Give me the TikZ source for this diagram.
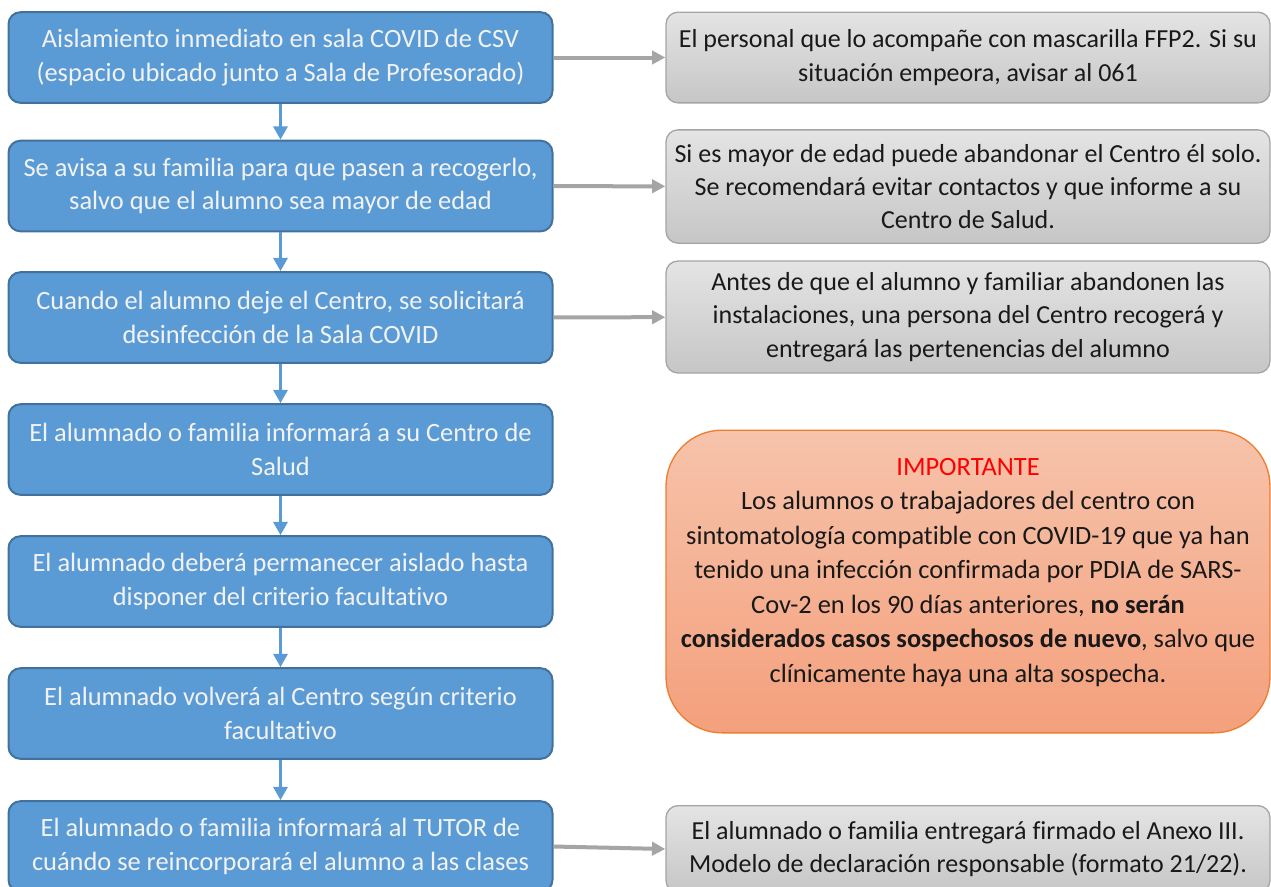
\documentclass[tikz,border=0pt]{standalone}
\usepackage{fontspec}
\setmainfont{Carlito}[Ligatures=NoCommon]
\usetikzlibrary{arrows.meta}

\definecolor{azulpaso}{HTML}{5B9BD5}
\definecolor{bordeazul}{HTML}{41719C}
\definecolor{grisclaro}{HTML}{E4E4E4}
\definecolor{grisoscuro}{HTML}{C6C6C6}
\definecolor{bordegris}{HTML}{A5A5A5}
\definecolor{flechagris}{HTML}{A5A5A5}
\definecolor{naranjaclaro}{HTML}{F6C3AB}
\definecolor{naranjaoscuro}{HTML}{F4A07C}
\definecolor{bordenaranja}{HTML}{ED7D31}

\tikzset{
  paso/.style={rectangle,rounded corners=9pt,draw=bordeazul,line width=1.5pt,
    fill=azulpaso,text=white!95!black,minimum width=408pt,minimum height=68pt,
    inner sep=0pt,align=center,font=\fontsize{19.8}{25}\selectfont},
  nota/.style={rectangle,rounded corners=9pt,draw=bordegris,line width=1pt,
    top color=grisclaro,bottom color=grisoscuro,text=black!90,
    minimum width=453pt,inner sep=0pt,align=center,
    font=\fontsize{19.5}{25}\selectfont},
  aviso/.style={rectangle,rounded corners=42pt,draw=bordenaranja,line width=1pt,
    top color=naranjaclaro,bottom color=naranjaoscuro,text=black!90,
    minimum width=453pt,minimum height=227pt,inner sep=0pt,align=center,
    font=\fontsize{19.8}{25.9}\selectfont},
  flechaazul/.style={draw=azulpaso,line width=2.4pt,
    -{Triangle[length=10pt,width=10.5pt]}},
  flechagris/.style={draw=flechagris,line width=3pt,
    -{Triangle[length=10pt,width=10pt]}}
}

\begin{document}
\begin{tikzpicture}[x=0.75pt,y=-0.75pt]
\clip (0,0) rectangle (1271,886);

% pasos del protocolo
\node[paso] (aisla) at (280.5,57.5) {Aislamiento inmediato en sala COVID de CSV\\(espacio ubicado junto a Sala de Profesorado)};
\node[paso] (avisa) at (280.5,186) {Se avisa a su familia para que pasen a recogerlo,\\salvo que el alumno sea mayor de edad};
\node[paso] (desinf) at (280.5,317.5) {Cuando el alumno deje el Centro, se solicitará\\desinfección de la Sala COVID};
\node[paso] (salud) at (280.5,449.5) {El alumnado o familia informará a su Centro de\\Salud};
\node[paso] (aislado) at (280.5,581.5) {El alumnado deberá permanecer aislado hasta\\disponer del criterio facultativo};
\node[paso] (vuelve) at (280.5,713.5) {El alumnado volverá al Centro según criterio\\facultativo};
\node[paso] (tutor) at (280.5,846.5) {El alumnado o familia informará al TUTOR de\\cuándo se reincorporará el alumno a las clases};

% notas de la derecha
\node[nota,minimum height=68pt] (ffp) at (968,57.5) {El personal que lo acompañe con mascarilla FFP2. Si su\\situación empeora, avisar al 061};
\node[nota,minimum height=85pt] (mayor) at (968,186.5) {Si es mayor de edad puede abandonar el Centro él solo.\\Se recomendará evitar contactos y que informe a su\\Centro de Salud.};
\node[nota,minimum height=84pt] (pertenencias) at (968,317) {Antes de que el alumno y familiar abandonen las\\instalaciones, una persona del Centro recogerá y\\entregará las pertenencias del alumno};
\node[nota,minimum height=65pt] (anexo) at (968,849) {El alumnado o familia entregará firmado el Anexo III.\\Modelo de declaración responsable (formato 21/22).};

\node[aviso] (importante) at (968,581.5) {{\color{red}IMPORTANTE}\\Los alumnos o trabajadores del centro con\\sintomatología compatible con COVID-19 que ya han\\tenido una infección confirmada por PDIA de SARS-\\Cov-2 en los 90 días anteriores, \textbf{no serán}\\\textbf{considerados casos sospechosos de nuevo}, salvo que\\clínicamente haya una alta sospecha.\\[-9pt]\mbox{}};

% flechas
\draw[flechaazul] (aisla) -- (avisa);
\draw[flechaazul] (avisa) -- (desinf);
\draw[flechaazul] (desinf) -- (salud);
\draw[flechaazul] (salud) -- (aislado);
\draw[flechaazul] (aislado) -- (vuelve);
\draw[flechaazul] (vuelve) -- (tutor);

\draw[flechagris] (aisla) -- (ffp);
\draw[flechagris] (avisa) -- (mayor);
\draw[flechagris] (desinf) -- (pertenencias);
\draw[flechagris] (tutor.east) -- (anexo.west);
\end{tikzpicture}
\end{document}
